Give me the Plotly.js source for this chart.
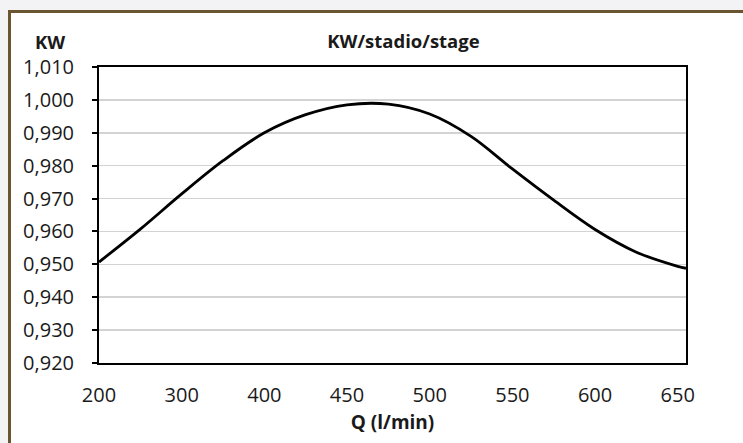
<!DOCTYPE html>
<html>
<head>
<meta charset="utf-8">
<script src="https://cdn.plot.ly/plotly-3.0.1.min.js"></script>
<style>
  html, body { margin: 0; padding: 0; width: 743px; height: 443px; overflow: hidden; background: #f3f3f5; }
  #frame { position: absolute; left: 8px; top: 10px; width: 740px; height: 440px; background: #ffffff;
           border-left: 3px solid #6b5531; border-top: 3px solid #6b5531; }
  #chart { position: absolute; left: 0; top: 0; width: 743px; height: 443px; }
</style>
</head>
<body>
<div id="frame"></div>
<div id="chart"></div>
<script>
// Q axis tick labels (l/min), evenly spaced along the axis
const flowLabels = ["200", "300", "400", "450", "500", "550", "600", "650"];
const flowLabelPos = [0, 1, 2, 3, 4, 5, 6, 7];
// Curve samples: position along the labelled axis and KW per stage
const curvePos = [0, 0.5, 1, 1.5, 2, 2.5, 3, 3.5, 4, 4.5, 5, 5.5, 6, 6.5, 7, 7.1];
const kwPerStage = [0.9507, 0.9607, 0.9714, 0.9815, 0.9900, 0.9955, 0.9985, 0.9987,
                    0.9957, 0.9889, 0.9790, 0.9695, 0.9606, 0.9537, 0.9494, 0.9488];
// Y axis ticks
const yTicks = [0.92, 0.93, 0.94, 0.95, 0.96, 0.97, 0.98, 0.99, 1.00, 1.01];

const fontFamily = "Open Sans, sans-serif";
const textColor = "#1a1a1a";

const trace = {
  x: curvePos,
  y: kwPerStage,
  type: "scatter",
  mode: "lines",
  line: { color: "#000000", width: 2.8, shape: "spline", smoothing: 1 },
  hoverinfo: "y",
  cliponaxis: true
};

const layout = {
  width: 743,
  height: 443,
  margin: { l: 99, r: 57, t: 67, b: 80 },
  paper_bgcolor: "rgba(0,0,0,0)",
  plot_bgcolor: "#ffffff",
  separators: ",.",
  showlegend: false,
  font: { family: fontFamily, color: textColor, size: 20 },
  title: {
    text: "<b>KW/stadio/stage</b>",
    font: { family: fontFamily, size: 18.5, color: textColor },
    x: 0.543, xanchor: "center",
    y: 1 - 42 / 443, yref: "container", yanchor: "middle"
  },
  xaxis: {
    range: [0, 7.1],
    tickvals: flowLabelPos,
    ticktext: flowLabels,
    showgrid: false,
    zeroline: false,
    showline: true,
    linecolor: "#000000",
    linewidth: 2,
    mirror: true,
    ticks: "",
    ticklabelstandoff: 13,
    tickfont: { family: fontFamily, size: 20, color: textColor },
    title: {
      text: "<b>Q (l/min)</b>",
      font: { family: fontFamily, size: 19, color: textColor },
      standoff: 9
    },
    fixedrange: true
  },
  yaxis: {
    range: [0.92, 1.01],
    tickvals: yTicks,
    tickformat: ".3f",
    showgrid: true,
    gridcolor: "#d3d3d3",
    gridwidth: 1.5,
    zeroline: false,
    showline: true,
    linecolor: "#000000",
    linewidth: 2,
    mirror: true,
    ticks: "outside",
    ticklen: 5,
    tickwidth: 2,
    tickcolor: "#000000",
    ticklabelstandoff: 14,
    tickfont: { family: fontFamily, size: 20, color: textColor },
    fixedrange: true
  },
  annotations: [
    {
      text: "<b>KW</b>",
      xref: "paper", yref: "paper",
      x: -0.083, y: 1.0, yshift: 26,
      xanchor: "center", yanchor: "middle",
      showarrow: false,
      font: { family: fontFamily, size: 18.5, color: textColor }
    }
  ]
};

Plotly.newPlot("chart", [trace], layout, { displayModeBar: false, staticPlot: true });
</script>
</body>
</html>
